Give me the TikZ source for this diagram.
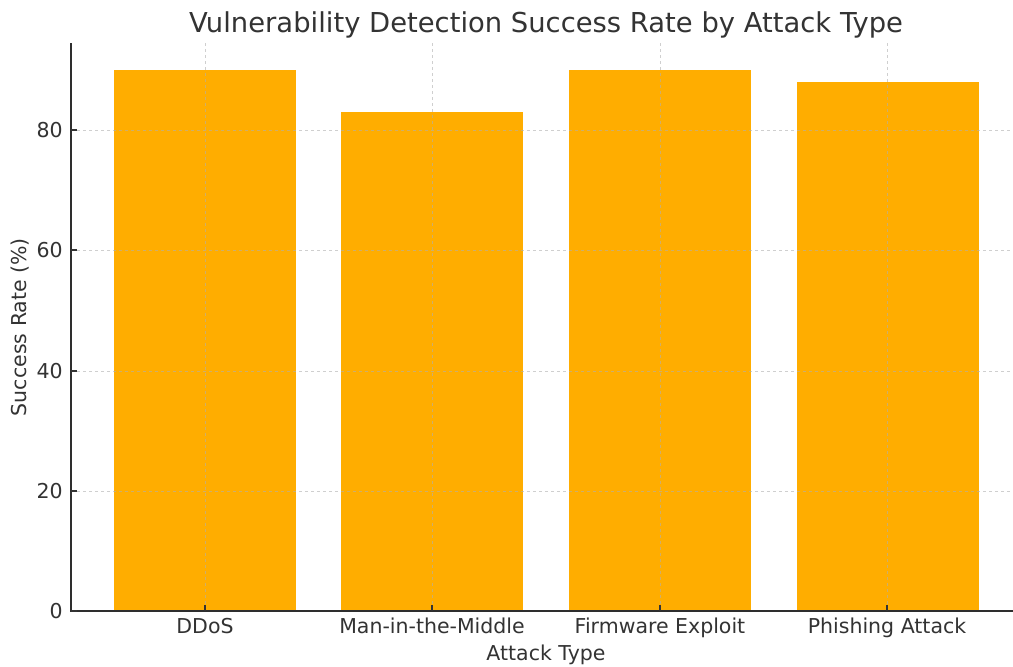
\documentclass[tikz,border=0pt]{standalone}
\usepackage{fontspec}
\setmainfont{DejaVu Sans}
\definecolor{barc}{HTML}{FFAD00}
\definecolor{txt}{HTML}{333333}
\definecolor{gridc}{HTML}{B0B0B0}
\begin{document}
\begin{tikzpicture}[x=0.5pt,y=-0.5pt,
  bar/.style={fill=barc,draw=none},
  gridline/.style={draw=gridc,dash pattern=on 1.6pt off 1.4pt,line width=0.35pt,opacity=0.6},
  spine/.style={draw=txt!90!black,line width=0.6pt},
  tickmark/.style={draw=txt,line width=0.6pt},
  ticklab/.style={text=txt,font=\fontsize{10.25}{12}\selectfont,inner sep=0pt},
  axlab/.style={text=txt,font=\fontsize{10.25}{12}\selectfont,inner sep=0pt},
  titlelab/.style={text=txt,font=\fontsize{13.7}{16}\selectfont,inner sep=0pt}]
\useasboundingbox[fill=white] (0,0) rectangle (1013,666);
% bars (value v -> y = 611 - 6.0125 v)
\fill[bar] (114,611) rectangle (296,70);
\fill[bar] (341,611) rectangle (523,112);
\fill[bar] (569,611) rectangle (751,70);
\fill[bar] (797,611) rectangle (979,82);
% grid
\foreach \yy in {491,371,250,130} \draw[gridline] (71,\yy) -- (1013,\yy);
\foreach \xx in {205,432,660,887} \draw[gridline] (\xx,43) -- (\xx,611);
% spines
\coordinate (o) at (71,611);
\coordinate (top) at (71,43);
\coordinate (right) at (1013,611);
\draw[spine] (top) -- (o) -- (right);
% ticks (inward)
\foreach \yy/\lab in {611/0,491/20,371/40,250/60,130/80}{
  \draw[tickmark] (71,\yy) -- (77,\yy);
  \node[ticklab,anchor=east] (yt\lab) at (63,\yy) {\lab};
}
\foreach \xx/\lab/\nm in {205/DDoS/a,432/Man-in-the-Middle/b,660/Firmware Exploit/c,887/Phishing Attack/d}{
  \draw[tickmark] (\xx,611) -- (\xx,605);
  \node[ticklab,anchor=base] (xt\nm) at (\xx,633) {\lab};
}
\node[axlab,anchor=base] (xlab) at (546,660) {Attack Type};
\node[axlab,rotate=90,anchor=base] (ylab) at (26,327) {Success Rate (\%)};
\node[titlelab,anchor=base] (title) at (546,32) {Vulnerability Detection Success Rate by Attack Type};
\end{tikzpicture}
\end{document}
